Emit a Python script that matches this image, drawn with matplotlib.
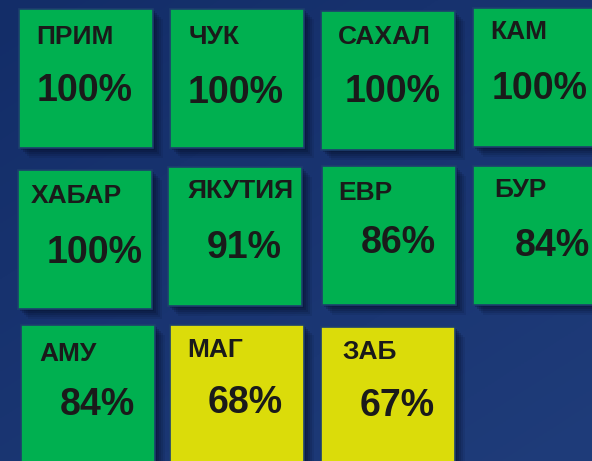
import numpy as np
import matplotlib.pyplot as plt
from matplotlib.patches import Rectangle

# Regions and coverage values
regions = ['ПРИМ', 'ЧУК', 'САХАЛ', 'КАМ',
           'ХАБАР', 'ЯКУТИЯ', 'ЕВР', 'БУР',
           'АМУ', 'МАГ', 'ЗАБ']
values = [100, 100, 100, 100,
          100, 91, 86, 84,
          84, 68, 67]

# Layout: tile grid (pixels), plus small nudges seen in the picture
n_cols = 4
col_x = [19, 169, 321, 472]
row_y = [9, 167, 326]
tile_w, tile_h = 134, 139
tile_nudge = [(0, 0), (1, 0), (0, 2), (1, -1),
              (-1, 3), (-1, 0), (1, -1), (1, -1),
              (2, -1), (1, -1), (0, 1)]
# text offsets from the tile's top-left corner (left edge, baseline)
label_pos = [(17, 35), (19, 35), (17, 33), (17, 31),
             (13, 33), (20, 31), (16, 34), (21, 31),
             (18, 36), (17, 32), (21, 32)]
value_pos = [(18, 92), (18, 94), (24, 91), (19, 91),
             (29, 93), (39, 91), (39, 87), (42, 90),
             (39, 90), (38, 88), (39, 89)]

green = '#00b050'
yellow = '#dbdc0a'
text_col = '#1a1a1a'
font = ['Liberation Sans', 'DejaVu Sans']

W, H = 592, 461
fig = plt.figure(figsize=(W / 100, H / 100), dpi=100)
ax = fig.add_axes([0, 0, 1, 1])
ax.set_xlim(0, W)
ax.set_ylim(H, 0)
ax.axis('off')

# Background gradient, dark navy to a lighter blue at the bottom right
yy, xx = np.mgrid[0:1:200j, 0:1:200j]
t = (0.45 * xx + 0.55 * yy)
c0 = np.array([0x13, 0x2d, 0x68]) / 255
c1 = np.array([0x1f, 0x3c, 0x7a]) / 255
bg = c0[None, None, :] * (1 - t[..., None]) + c1[None, None, :] * t[..., None]
ax.imshow(bg, extent=[0, W, H, 0], aspect='auto', zorder=0)

for i, (name, val) in enumerate(zip(regions, values)):
    r, c = divmod(i, n_cols)
    x0 = col_x[c] + tile_nudge[i][0]
    y0 = row_y[r] + tile_nudge[i][1]
    color = green if val >= 80 else yellow

    # soft drop shadow
    for k, a in [(10, 0.10), (8, 0.14), (6, 0.18), (4, 0.22), (2, 0.25)]:
        ax.add_patch(Rectangle((x0 + k, y0 + k), tile_w, tile_h,
                               facecolor='#050f2a', alpha=a,
                               edgecolor='none', zorder=1))
    ax.add_patch(Rectangle((x0, y0), tile_w, tile_h, facecolor=color,
                           edgecolor='#1d3f6e', linewidth=1.2, zorder=2))

    lx, ly = label_pos[i]
    ax.text(x0 + lx, y0 + ly, name, ha='left', va='baseline',
            fontsize=19, fontweight='bold', color=text_col,
            family=font, zorder=3)
    vx, vy = value_pos[i]
    ax.text(x0 + vx, y0 + vy, f'{val}%', ha='left', va='baseline',
            fontsize=27, fontweight='bold', color=text_col,
            family=font, zorder=3)

fig.savefig('out.png', dpi=100)
